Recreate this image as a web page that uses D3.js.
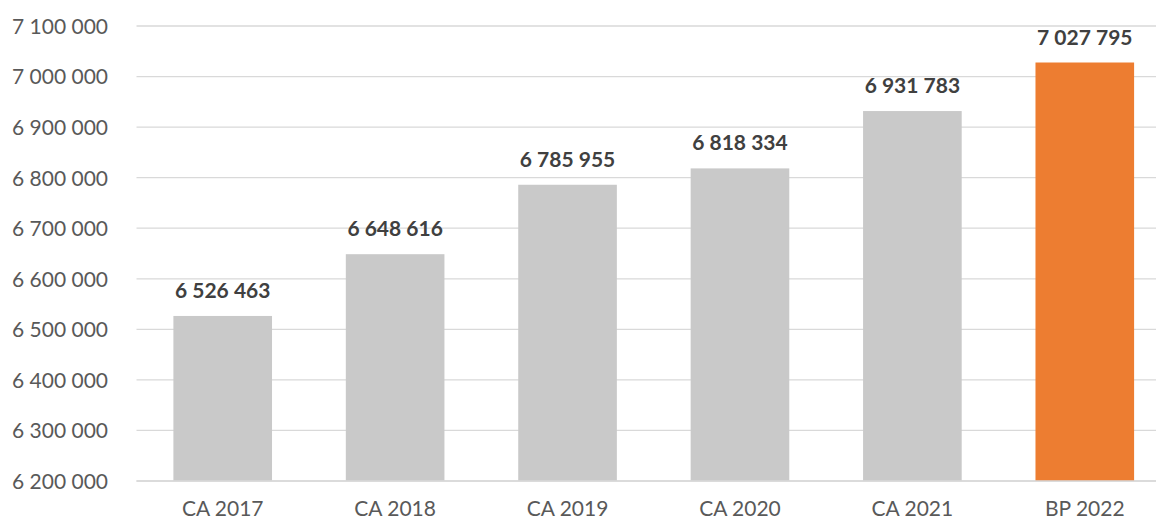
<!doctype html>
<html>
  <head>
    <meta charset="utf-8">
    <script src="https://cdn.jsdelivr.net/npm/d3@7"></script>
    <style>
      body { margin: 0; background: white; }
      .chart { display: block; }
      .chart text { font-family: Lato, "Open Sans", sans-serif; }
      .tick text { font-size: 21px; fill: #595959; }
      .value-label { font-size: 21px; font-weight: bold; fill: #404040; }
    </style>
  </head>
  <body>
    <svg class="chart"></svg>
    <script>
      // data
      const categories = ["CA 2017", "CA 2018", "CA 2019", "CA 2020", "CA 2021", "BP 2022"]
      const values = [6526463, 6648616, 6785955, 6818334, 6931783, 7027795]
      const barColors = ["#c9c9c9", "#c9c9c9", "#c9c9c9", "#c9c9c9", "#c9c9c9", "#ed7d31"]
      const yTicks = [6200000, 6300000, 6400000, 6500000, 6600000, 6700000, 6800000, 6900000, 7000000, 7100000]

      const W = 1156, H = 521
      const plot = { left: 136.5, right: 1171, top: 26, bottom: 481 }

      const fr = d3.formatLocale({ decimal: ",", thousands: " ", grouping: [3], currency: ["", " €"] })
      const fmt = fr.format(",d")

      const svg = d3.select(".chart")
          .attr("width", W)
          .attr("height", H)

      const x = d3.scaleBand()
          .domain(categories)
          .range([plot.left, plot.right])
          .paddingInner(0.428)
          .paddingOuter(0.214)

      const y = d3.scaleLinear()
          .domain([6200000, 7100000])
          .range([plot.bottom, plot.top])

      // gridlines
      svg.append("g")
          .selectAll("line")
          .data(yTicks)
          .enter().append("line")
            .attr("x1", plot.left)
            .attr("x2", W)
            .attr("y1", d => y(d))
            .attr("y2", d => y(d))
            .attr("stroke", "#d9d9d9")
            .attr("stroke-width", 1.3)

      // y axis labels only
      const yAxis = d3.axisLeft(y)
          .tickValues(yTicks)
          .tickFormat(fmt)
          .tickSize(0)
          .tickPadding(0)

      const yg = svg.append("g")
          .attr("transform", "translate(108,0)")
          .call(yAxis)
      yg.select(".domain").remove()
      yg.selectAll(".tick text").attr("dy", "0.35em")

      // bars
      svg.append("g")
        .selectAll("rect")
        .data(values)
        .enter().append("rect")
          .attr("x", (d, i) => x(categories[i]))
          .attr("width", x.bandwidth())
          .attr("y", d => y(d))
          .attr("height", d => y(6200000) - y(d))
          .attr("fill", (d, i) => barColors[i])

      // bottom line over bars
      svg.append("line")
          .attr("x1", plot.left)
          .attr("x2", W)
          .attr("y1", y(6200000))
          .attr("y2", y(6200000))
          .attr("stroke", "#d9d9d9")
          .attr("stroke-width", 1.5)

      // x axis labels
      const xAxis = d3.axisBottom(x)
          .tickSize(0)
          .tickPadding(0)

      const xg = svg.append("g")
          .attr("transform", "translate(0," + plot.bottom + ")")
          .call(xAxis)
      xg.select(".domain").remove()
      xg.selectAll(".tick text").attr("dy", null).attr("y", 35)

      // value labels
      svg.append("g")
        .selectAll("text")
        .data(values)
        .enter().append("text")
          .attr("class", "value-label")
          .attr("x", (d, i) => x(categories[i]) + x.bandwidth() / 2)
          .attr("y", d => y(d) - 18)
          .attr("text-anchor", "middle")
          .text(d => fmt(d))
    </script>
  </body>
</html>
